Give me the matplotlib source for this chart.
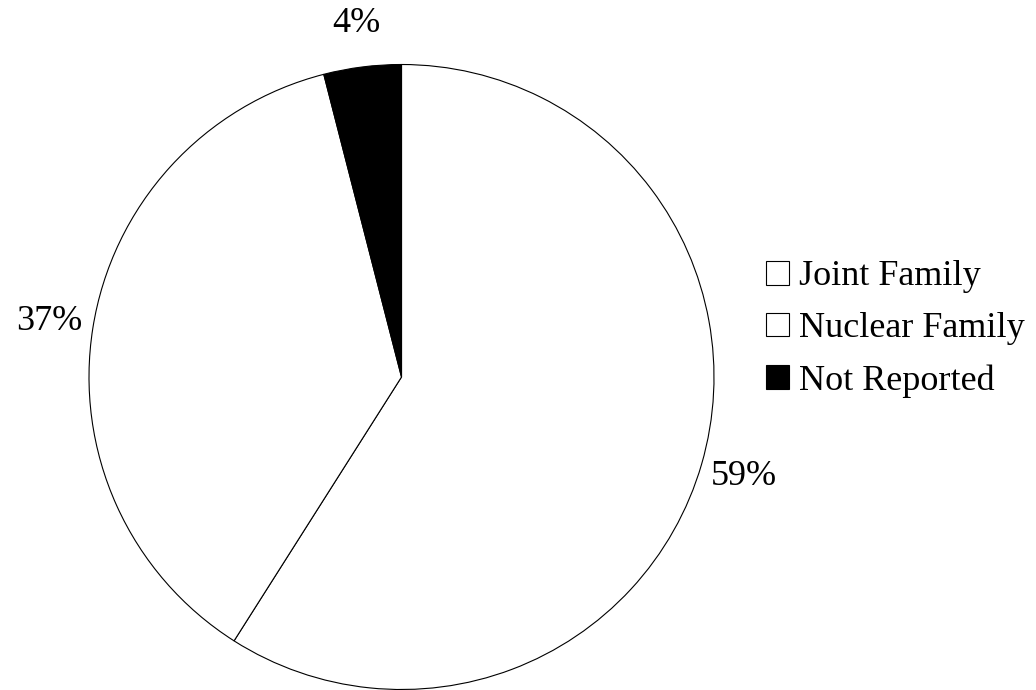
import matplotlib
matplotlib.use("Agg")
import matplotlib.pyplot as plt
from matplotlib.patches import Patch

categories = ["Joint Family", "Nuclear Family", "Not Reported"]
shares = [59, 37, 4]
colors = ["white", "white", "black"]

plt.rcParams["font.family"] = ["Liberation Serif", "DejaVu Serif"]

W, H = 1036, 690
fig = plt.figure(figsize=(W / 100, H / 100), dpi=100)
cx, cy, r = 401.5, 377.0, 312.5
ax = fig.add_axes([(cx - r) / W, (H - cy - r) / H, 2 * r / W, 2 * r / H])

wedges, texts = ax.pie(
    shares,
    colors=colors,
    startangle=90,
    counterclock=False,
    radius=1.0,
    wedgeprops=dict(edgecolor="black", linewidth=0.8),
    labels=[f"{v}%" for v in shares],
    labeldistance=1.14,
    textprops=dict(fontsize=26),
)
for t in texts:
    t.set_ha("center")
    t.set_va("center")
ax.set_xlim(-1, 1)
ax.set_ylim(-1, 1)
ax.set_aspect("equal")
ax.axis("off")

handles = [Patch(facecolor=c, edgecolor="black", linewidth=0.8) for c in colors]
fig.legend(
    handles, categories,
    loc="center left",
    bbox_to_anchor=(766 / W, 1 - 329 / H),
    frameon=False,
    fontsize=26,
    handlelength=0.64,
    handleheight=0.64,
    handletextpad=0.28,
    labelspacing=0.52,
    borderaxespad=0,
    borderpad=0,
)

fig.savefig("out.png", dpi=100)
